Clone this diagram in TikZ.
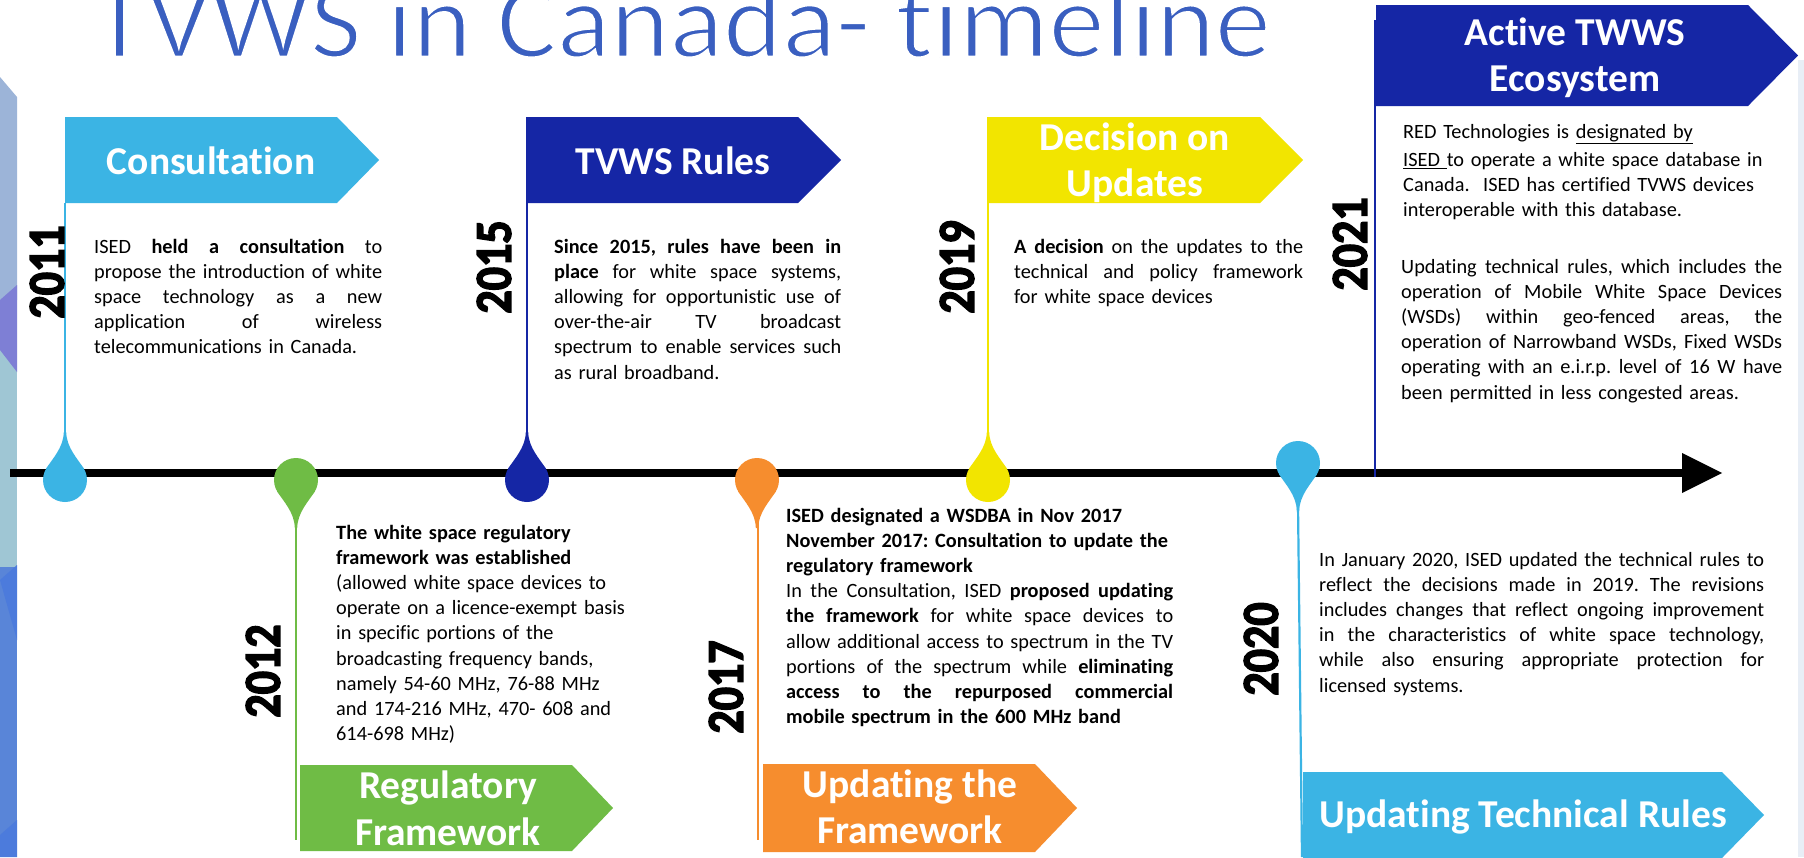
\documentclass[tikz,border=0pt]{standalone}
\usepackage{fontspec}
\usepackage{graphicx}
\setmainfont{Carlito}[Ligatures={NoCommon}]
\frenchspacing
\definecolor{lblue}{HTML}{3BB4E4}
\definecolor{dblue}{HTML}{1526A5}
\definecolor{yel}{HTML}{F2E500}
\definecolor{grn}{HTML}{6FBC45}
\definecolor{org}{HTML}{F68D2E}
\definecolor{ttl}{HTML}{3A5FC0}
\definecolor{stripA}{HTML}{9CB4D8}
\definecolor{stripB}{HTML}{7E7FD5}
\definecolor{stripC}{HTML}{9FC6D4}
\definecolor{stripD}{HTML}{5985D8}
\definecolor{stripE}{HTML}{4C7BDC}
\definecolor{edge}{HTML}{E8EEF6}
\newlength\jw
\newcommand\jl[1]{\leavevmode{\spaceskip=0.22em plus 1fil minus 0.05em\xspaceskip=\spaceskip\hbox to \jw{#1}}}
\newcommand\yr[1]{\special{pdf:literal direct 0 0 0 RG 1.4 w 2 Tr}\scalebox{1}[1.12]{#1}}
% flag: colour, left x, top y, right x, tip x, bottom y
\newcommand\myflag[6]{\fill[#1] (#2,#3) -- (#4,#3) -- (#5,{(#3+#6)/2}) -- (#4,#6) -- (#2,#6) -- cycle;}
% drop with tail upwards: colour, cx, cy
\newcommand\dropup[3]{%
  \fill[#1] (#2,#3) circle[radius=22];
  \fill[#1] ({#2-19},{#3-11}) .. controls ({#2-13},{#3-21}) and ({#2-1.5},{#3-32}) .. ({#2-1.2},{#3-48})
     -- ({#2+1.2},{#3-48}) .. controls ({#2+1.5},{#3-32}) and ({#2+13},{#3-21}) .. ({#2+19},{#3-11}) -- cycle;}
% drop with tail downwards: colour, cx, cy
\newcommand\dropdown[3]{%
  \fill[#1] (#2,#3) circle[radius=22];
  \fill[#1] ({#2-19},{#3+11}) .. controls ({#2-13},{#3+21}) and ({#2-1.5},{#3+32}) .. ({#2-1.2},{#3+48})
     -- ({#2+1.2},{#3+48}) .. controls ({#2+1.5},{#3+32}) and ({#2+13},{#3+21}) .. ({#2+19},{#3+11}) -- cycle;}
\tikzset{
  body/.style={font=\fontsize{20.3}{25.2}\selectfont, inner sep=0pt, anchor=base west, align=left},
  flagtext/.style={font=\fontsize{39.5}{47}\selectfont\bfseries, text=white, inner sep=0pt, anchor=base},
  year/.style={font=\fontsize{46}{46}\selectfont\bfseries, rotate=90, inner sep=0pt, anchor=center},
  stem/.style={line width=2.2pt}
}
\begin{document}
\begin{tikzpicture}[x=1pt,y=-1pt]
\useasboundingbox (0,0) rectangle (1804,857);
\fill[white] (0,0) rectangle (1804,857);
% left decorative strip
\fill[stripA] (0,77) -- (17,97) -- (17,300) -- (0,300) -- cycle;
\fill[stripC] (0,300) rectangle (17,567);
\fill[stripB] (0,300) -- (17,285) -- (17,372) -- (0,350) -- cycle;
\fill[stripD] (0,567) rectangle (17,857);
\fill[stripE] (0,580) -- (17,565) -- (17,640) -- cycle;
\fill[stripE] (0,835) -- (17,820) -- (17,857) -- (0,857) -- cycle;
% right faint edge
\fill[edge] (1798,60) rectangle (1804,857);
% title (white outline stroke thins the glyphs towards a light weight)
\node[font=\fontsize{107}{107}\selectfont, text=ttl, inner sep=0pt, anchor=base west] (title) at (92,57) {\special{pdf:literal direct 1 1 1 RG 2.6 w 2 Tr}\resizebox{1179pt}{\height}{TVWS in Canada- timeline}};
% timeline
\draw[line width=8pt] (10,473) -- (1684,473);
\fill (1682,453) -- (1722,473) -- (1682,493) -- cycle;
\coordinate (axisend) at (1722,473);
% stems
\draw[lblue, stem] (65,203) -- (65,440);
\draw[dblue, stem] (527,203) -- (527,440);
\draw[yel, stem] (988,203) -- (988,440);
\draw[dblue, line width=1.6pt] (1375,20) -- (1375,477);
\draw[grn, stem] (296,520) -- (296,840);
\draw[org, stem] (758,520) -- (758,840);
\draw[lblue, stem] (1298,505) -- (1302,857);
% drops
\dropup{lblue}{65}{480}
\dropup{dblue}{527}{480}
\dropup{yel}{988}{480}
\dropdown{grn}{296}{480}
\dropdown{org}{757}{480}
\dropdown{lblue}{1298}{463}
% flags
\myflag{lblue}{65}{117}{337}{379}{203}
\myflag{dblue}{526}{117}{798}{841}{203}
\myflag{yel}{987}{117}{1260}{1303}{203}
\myflag{dblue}{1376}{5}{1748}{1798}{106}
\myflag{grn}{300}{765}{572}{613}{851}
\myflag{org}{763}{764}{1035}{1077}{852}
\myflag{lblue}{1303}{772}{1722}{1764}{858}
% flag texts
\node[flagtext] (f1) at (211,174) {Consultation};
\node[flagtext] (f2) at (673,174) {TVWS Rules};
\node[flagtext] (f3a) at (1135,150) {Decision on};
\node[flagtext] (f3b) at (1135,196) {Updates};
\node[flagtext] (f4a) at (1575,45) {Active TWWS};
\node[flagtext] (f4b) at (1575,91) {Ecosystem};
\node[flagtext] (f5a) at (448,798) {Regulatory};
\node[flagtext] (f5b) at (448,845) {Framework};
\node[flagtext] (f6a) at (910,797) {Updating the};
\node[flagtext] (f6b) at (910,843) {Framework};
\node[flagtext] (f7) at (1523,827) {Updating Technical Rules};
% years
\node[year] (y2011) at (47,272) {\yr{2011}};
\node[year] (y2015) at (494,267) {\yr{2015}};
\node[year] (y2019) at (957,267) {\yr{2019}};
\node[year] (y2021) at (1350,244) {\yr{2021}};
\node[year] (y2012) at (263,671) {\yr{2012}};
\node[year] (y2017) at (726,687) {\yr{2017}};
\node[year] (y2020) at (1261,649) {\yr{2020}};
% body texts
\node[body, text width=300pt] (t2011) at (94,253) {\setlength\jw{288pt}%
\jl{ISED \textbf{held a consultation} to}\\
\jl{propose the introduction of white}\\
\jl{space technology as a new}\\
\jl{application of wireless}\\
telecommunications in Canada.};
\node[body, text width=300pt] (t2015) at (554,253) {\setlength\jw{287pt}%
\jl{\textbf{Since 2015, rules have been in}}\\
\jl{\textbf{place} for white space systems,}\\
\jl{allowing for opportunistic use of}\\
\jl{over-the-air TV broadcast}\\
\jl{spectrum to enable services such}\\
as rural broadband.};
\node[body, text width=300pt] (t2019) at (1014,253) {\setlength\jw{289pt}%
\jl{\textbf{A decision} on the updates to the}\\
\jl{technical and policy framework}\\
for white space devices};
\node[body, text width=390pt] (t2021a) at (1403,138) {%
RED Technologies is \underline{designated by}\\[3pt]
\underline{ISED\ }to operate a white space database in\\
Canada.\ \ ISED has certified TVWS devices\\
interoperable with this database.};
\node[body, text width=395pt] (t2021b) at (1401,273) {\setlength\jw{381pt}%
\jl{Updating technical rules, which includes the}\\
\jl{operation of Mobile White Space Devices}\\
\jl{(WSDs) within geo-fenced areas, the}\\
\jl{operation of Narrowband WSDs, Fixed WSDs}\\
\jl{operating with an e.i.r.p. level of 16 W have}\\
been permitted in less congested areas.};
\node[body, text width=310pt] (t2012) at (336,539) {%
\textbf{The white space regulatory}\\
\textbf{framework was established}\\
(allowed white space devices to\\
operate on a licence-exempt basis\\
in specific portions of the\\
broadcasting frequency bands,\\
namely 54-60 MHz, 76-88 MHz\\
and 174-216 MHz, 470- 608 and\\
614-698 MHz)};
\node[body, text width=400pt] (t2017) at (786,522) {\setlength\jw{387pt}%
\textbf{ISED designated a WSDBA in Nov 2017}\\
\textbf{November 2017: Consultation to update the}\\
\textbf{regulatory framework}\\
\jl{In the Consultation, ISED \textbf{proposed updating}}\\
\jl{\textbf{the framework} for white space devices to}\\
\jl{allow additional access to spectrum in the TV}\\
\jl{portions of the spectrum while \textbf{eliminating}}\\
\jl{\textbf{access to the repurposed commercial}}\\
\textbf{mobile spectrum in the 600 MHz band}};
\node[body, text width=460pt] (t2020) at (1319,566) {\setlength\jw{445pt}%
\jl{In January 2020, ISED updated the technical rules to}\\
\jl{reflect the decisions made in 2019. The revisions}\\
\jl{includes changes that reflect ongoing improvement}\\
\jl{in the characteristics of white space technology,}\\
\jl{while also ensuring appropriate protection for}\\
licensed systems.};
\end{tikzpicture}
\end{document}
